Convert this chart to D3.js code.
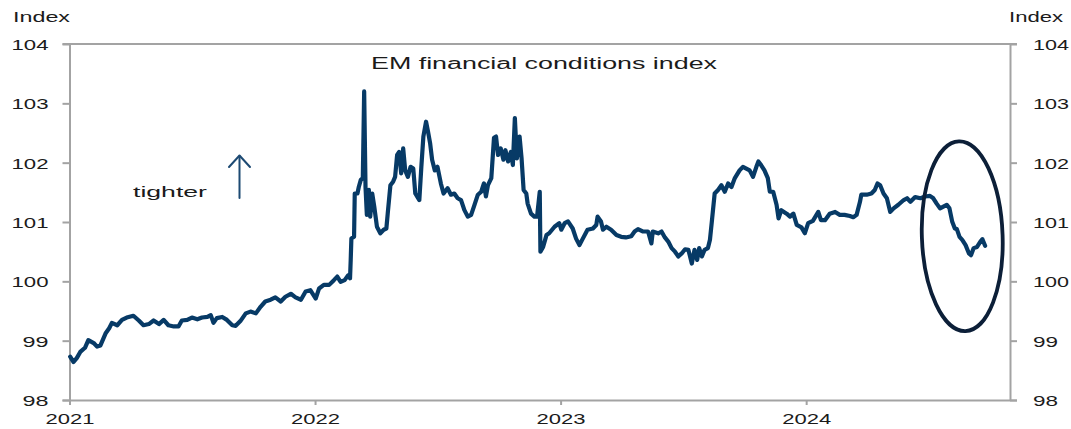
<!DOCTYPE html>
<html>
<head>
<meta charset="utf-8">
<script src="https://cdn.jsdelivr.net/npm/d3@7"></script>
<style>
  html, body { margin: 0; padding: 0; background: #ffffff; }
  svg { display: block; font-family: "Liberation Sans", Arial, sans-serif; }
</style>
</head>
<body>
<svg id="chart" width="1071" height="429"></svg>
<script>
// EM financial conditions index, observation dates and index levels
const dates = [
  "2021-01-02","2021-01-07","2021-01-12","2021-01-17","2021-01-24","2021-01-29","2021-02-06","2021-02-11",
  "2021-02-16","2021-02-24","2021-03-01","2021-03-05","2021-03-13","2021-03-20","2021-03-27","2021-04-06",
  "2021-04-14","2021-04-21","2021-04-29","2021-05-06","2021-05-14","2021-05-21","2021-05-28","2021-06-05",
  "2021-06-12","2021-06-17","2021-06-25","2021-07-02","2021-07-10","2021-07-17","2021-07-25","2021-07-30",
  "2021-08-03","2021-08-08","2021-08-16","2021-08-23","2021-08-31","2021-09-05","2021-09-12","2021-09-20",
  "2021-09-27","2021-10-05","2021-10-12","2021-10-19","2021-10-27","2021-11-03","2021-11-11","2021-11-18",
  "2021-11-26","2021-12-03","2021-12-11","2021-12-18","2021-12-25","2022-01-02","2022-01-07","2022-01-14",
  "2022-01-22","2022-01-29","2022-02-03","2022-02-08","2022-02-14","2022-02-19","2022-02-22","2022-02-23",
  "2022-02-24","2022-02-28","2022-03-01","2022-03-05","2022-03-07","2022-03-10","2022-03-13","2022-03-15",
  "2022-03-17","2022-03-19","2022-03-22","2022-03-24","2022-03-27","2022-03-30","2022-04-03","2022-04-08",
  "2022-04-13","2022-04-17","2022-04-19","2022-04-23","2022-04-27","2022-04-30","2022-05-03","2022-05-06",
  "2022-05-09","2022-05-12","2022-05-15","2022-05-19","2022-05-23","2022-05-27","2022-05-30","2022-06-05",
  "2022-06-08","2022-06-11","2022-06-15","2022-06-18","2022-06-21","2022-06-24","2022-06-28","2022-07-02",
  "2022-07-07","2022-07-11","2022-07-17","2022-07-22","2022-07-27","2022-08-01","2022-08-06","2022-08-11",
  "2022-08-16","2022-08-21","2022-08-26","2022-08-31","2022-09-05","2022-09-09","2022-09-12","2022-09-15",
  "2022-09-20","2022-09-24","2022-09-27","2022-09-30","2022-10-04","2022-10-08","2022-10-11","2022-10-15",
  "2022-10-19","2022-10-22","2022-10-25","2022-10-28","2022-11-01","2022-11-04","2022-11-07","2022-11-11",
  "2022-11-13","2022-11-18","2022-11-23","2022-11-27","2022-12-01","2022-12-02","2022-12-06","2022-12-11",
  "2022-12-15","2022-12-23","2022-12-30","2023-01-02","2023-01-07","2023-01-12","2023-01-19","2023-01-24",
  "2023-01-29","2023-02-03","2023-02-10","2023-02-18","2023-02-23","2023-02-25","2023-03-02","2023-03-05",
  "2023-03-10","2023-03-17","2023-03-25","2023-04-01","2023-04-08","2023-04-16","2023-04-21","2023-04-26",
  "2023-05-03","2023-05-11","2023-05-16","2023-05-18","2023-05-26","2023-05-31","2023-06-05","2023-06-10",
  "2023-06-15","2023-06-20","2023-06-25","2023-06-30","2023-07-05","2023-07-10","2023-07-15","2023-07-19",
  "2023-07-23","2023-07-26","2023-07-30","2023-08-03","2023-08-08","2023-08-11","2023-08-14","2023-08-18",
  "2023-08-23","2023-08-28","2023-09-02","2023-09-07","2023-09-12","2023-09-17","2023-09-24","2023-09-29",
  "2023-10-04","2023-10-09","2023-10-14","2023-10-19","2023-10-22","2023-10-26","2023-10-31","2023-11-05",
  "2023-11-08","2023-11-13","2023-11-18","2023-11-21","2023-11-25","2023-12-03","2023-12-08","2023-12-13",
  "2023-12-18","2023-12-25","2023-12-30","2024-01-04","2024-01-11","2024-01-19","2024-01-23","2024-01-29",
  "2024-02-05","2024-02-13","2024-02-20","2024-02-27","2024-03-06","2024-03-11","2024-03-16","2024-03-21",
  "2024-03-23","2024-03-31","2024-04-07","2024-04-12","2024-04-16","2024-04-20","2024-04-25","2024-04-30",
  "2024-05-05","2024-05-10","2024-05-17","2024-05-25","2024-05-30","2024-06-04","2024-06-11","2024-06-19",
  "2024-06-26","2024-07-03","2024-07-08","2024-07-13","2024-07-18","2024-07-23","2024-07-28","2024-08-01",
  "2024-08-05","2024-08-09","2024-08-12","2024-08-16","2024-08-20","2024-08-25","2024-08-30","2024-09-02",
  "2024-09-06","2024-09-11","2024-09-16","2024-09-19","2024-09-23"
];
const values = [
  98.73, 98.64, 98.71, 98.81, 98.88, 99.01, 98.96, 98.90,
  98.92, 99.13, 99.21, 99.30, 99.26, 99.35, 99.39, 99.42,
  99.34, 99.26, 99.28, 99.34, 99.28, 99.35, 99.26, 99.24,
  99.24, 99.34, 99.35, 99.39, 99.36, 99.39, 99.40, 99.43,
  99.30, 99.38, 99.40, 99.35, 99.26, 99.25, 99.33, 99.46,
  99.49, 99.46, 99.57, 99.66, 99.69, 99.73, 99.66, 99.74,
  99.79, 99.73, 99.69, 99.83, 99.85, 99.71, 99.88, 99.94,
  99.94, 100.02, 100.08, 99.99, 100.02, 100.10, 100.05, 100.36,
  100.72, 100.75, 101.48, 101.48, 101.59, 101.71, 101.74, 103.20,
  101.59, 101.12, 101.54, 101.09, 101.48, 101.26, 100.92, 100.81,
  100.87, 100.89, 101.14, 101.62, 101.68, 101.76, 102.13, 102.18,
  101.82, 102.24, 101.87, 101.76, 101.93, 101.90, 101.48, 101.37,
  101.93, 102.44, 102.69, 102.52, 102.33, 102.05, 101.87, 101.93,
  101.65, 101.48, 101.57, 101.46, 101.48, 101.40, 101.37, 101.20,
  101.09, 101.12, 101.29, 101.46, 101.51, 101.65, 101.43, 101.62,
  101.74, 102.42, 102.44, 102.13, 102.24, 102.05, 102.21, 102.02,
  102.18, 101.96, 102.75, 102.07, 102.44, 102.07, 101.54, 101.48,
  101.31, 101.14, 101.09, 101.09, 101.51, 100.50, 100.58, 100.78,
  100.81, 100.92, 100.98, 100.87, 100.98, 101.01, 100.89, 100.72,
  100.61, 100.72, 100.87, 100.89, 100.95, 101.09, 101.01, 100.87,
  100.92, 100.87, 100.78, 100.75, 100.74, 100.76, 100.84, 100.88,
  100.84, 100.84, 100.64, 100.84, 100.81, 100.84, 100.74, 100.67,
  100.56, 100.50, 100.42, 100.47, 100.54, 100.53, 100.30, 100.53,
  100.36, 100.56, 100.42, 100.53, 100.56, 100.70, 101.03, 101.48,
  101.54, 101.62, 101.51, 101.65, 101.59, 101.74, 101.87, 101.93,
  101.90, 101.87, 101.76, 101.93, 102.02, 101.96, 101.87, 101.74,
  101.51, 101.51, 101.29, 101.06, 101.20, 101.14, 101.09, 101.14,
  100.95, 100.91, 100.81, 100.98, 101.02, 101.17, 101.03, 101.03,
  101.14, 101.17, 101.12, 101.12, 101.10, 101.08, 101.12, 101.34,
  101.46, 101.46, 101.48, 101.54, 101.65, 101.62, 101.48, 101.40,
  101.17, 101.23, 101.29, 101.37, 101.40, 101.34, 101.42, 101.40,
  101.43, 101.44, 101.40, 101.31, 101.23, 101.26, 101.29, 101.23,
  101.01, 100.89, 100.88, 100.75, 100.70, 100.61, 100.47, 100.44,
  100.56, 100.58, 100.67, 100.71, 100.60
];

// Axis ticks and labels
const yTicks = [98, 99, 100, 101, 102, 103, 104];
const yearTicks = ["2021-01-01", "2022-01-01", "2023-01-01", "2024-01-01"];
const yearLabels = ["2021", "2022", "2023", "2024"];

// Text
const titleText = "EM financial conditions index";
const unitLabel = "Index";
const directionNote = "tighter";

const parse = d3.timeParse("%Y-%m-%d");
const series = dates.map((d, i) => ({ date: parse(d), value: values[i] }));

const svg = d3.select("#chart");
const plot = { left: 69.5, right: 1010, top: 44, bottom: 400 };

const x = d3.scaleTime()
  .domain([parse("2021-01-01"), parse("2024-10-30")])
  .range([plot.left, plot.right]);
const y = d3.scaleLinear()
  .domain([98, 104])
  .range([plot.bottom, plot.top]);

const axisColor = "#a3a3a3";
const textColor = "#1b1b1b";
const lineColor = "#073a66";

// Frame line along the top edge
svg.append("line")
  .attr("x1", plot.left - 7).attr("x2", plot.right + 7)
  .attr("y1", y(104)).attr("y2", y(104))
  .attr("stroke", axisColor).attr("stroke-width", 2);

function styleAxis(g) {
  g.select(".domain").attr("stroke", axisColor).attr("stroke-width", 2);
  g.selectAll(".tick line").attr("stroke", axisColor).attr("stroke-width", 2);
  g.selectAll(".tick text")
    .attr("fill", textColor)
    .style("font-size", "15px")
    .attr("lengthAdjust", "spacingAndGlyphs");
}

// Left value axis
const yLeft = svg.append("g")
  .attr("transform", `translate(${plot.left},0)`)
  .call(d3.axisLeft(y).tickValues(yTicks).tickSize(7).tickSizeOuter(0).tickPadding(14).tickFormat(d3.format("d")));
styleAxis(yLeft);
yLeft.selectAll(".tick text")
  .attr("dy", "0.36em")
  .attr("textLength", d => String(d).length === 3 ? 37 : 26);

// Right value axis
const yRight = svg.append("g")
  .attr("transform", `translate(${plot.right},0)`)
  .call(d3.axisRight(y).tickValues(yTicks).tickSize(7).tickSizeOuter(0).tickPadding(16).tickFormat(d3.format("d")));
styleAxis(yRight);
yRight.selectAll(".tick text")
  .attr("dy", "0.36em")
  .attr("textLength", d => String(d).length === 3 ? 36 : 25);

// Bottom time axis
const xAxis = svg.append("g")
  .attr("transform", `translate(0,${plot.bottom})`)
  .call(d3.axisBottom(x)
    .tickValues(yearTicks.map(parse))
    .tickSize(5).tickSizeOuter(0).tickPadding(10)
    .tickFormat((d, i) => yearLabels[i]));
styleAxis(xAxis);
xAxis.select(".domain").attr("d", `M${plot.left - 7},0.5H${plot.right + 7}`);
xAxis.selectAll(".tick text")
  .attr("y", 24).attr("dy", 0)
  .attr("textLength", 49);

// Unit labels above both axes
svg.append("text")
  .attr("x", 13).attr("y", 21.5)
  .attr("fill", textColor).style("font-size", "15px")
  .attr("textLength", 57).attr("lengthAdjust", "spacingAndGlyphs")
  .text(unitLabel);
svg.append("text")
  .attr("x", 1009).attr("y", 21.5)
  .attr("fill", textColor).style("font-size", "15px")
  .attr("textLength", 54).attr("lengthAdjust", "spacingAndGlyphs")
  .text(unitLabel);

// Chart title
svg.append("text")
  .attr("x", 371).attr("y", 69)
  .attr("fill", textColor).style("font-size", "16px")
  .attr("textLength", 346).attr("lengthAdjust", "spacingAndGlyphs")
  .text(titleText);

// Direction note with upward arrow
svg.append("text")
  .attr("x", 133).attr("y", 197)
  .attr("fill", textColor).style("font-size", "15px")
  .attr("textLength", 74).attr("lengthAdjust", "spacingAndGlyphs")
  .text(directionNote);
const arrow = svg.append("g")
  .attr("stroke", "#1d4a73").attr("stroke-width", 2).attr("fill", "none")
  .attr("stroke-linecap", "round").attr("stroke-linejoin", "round");
arrow.append("line").attr("x1", 239.5).attr("x2", 239.5).attr("y1", 198).attr("y2", 156);
arrow.append("path").attr("d", "M229,167L239.5,155.5L250,167");

// Index line
const line = d3.line()
  .x(d => x(d.date))
  .y(d => y(d.value));
svg.append("path")
  .datum(series)
  .attr("fill", "none")
  .attr("stroke", lineColor)
  .attr("stroke-width", 4.2)
  .attr("stroke-linejoin", "round")
  .attr("stroke-linecap", "round")
  .attr("d", line);

// Highlight ring around the latest easing move
const ringCentre = { date: parse("2024-08-20"), value: 100.76 };
const ringDays = 60, ringSpan = 1.60;
const cx = x(ringCentre.date), cy = y(ringCentre.value);
svg.append("ellipse")
  .attr("cx", cx).attr("cy", cy)
  .attr("rx", x(d3.timeDay.offset(ringCentre.date, ringDays)) - cx)
  .attr("ry", y(ringCentre.value - ringSpan) - cy)
  .attr("transform", `rotate(-2,${cx},${cy})`)
  .attr("fill", "none")
  .attr("stroke", "#0c1f38")
  .attr("stroke-width", 3.8);
</script>
</body>
</html>
